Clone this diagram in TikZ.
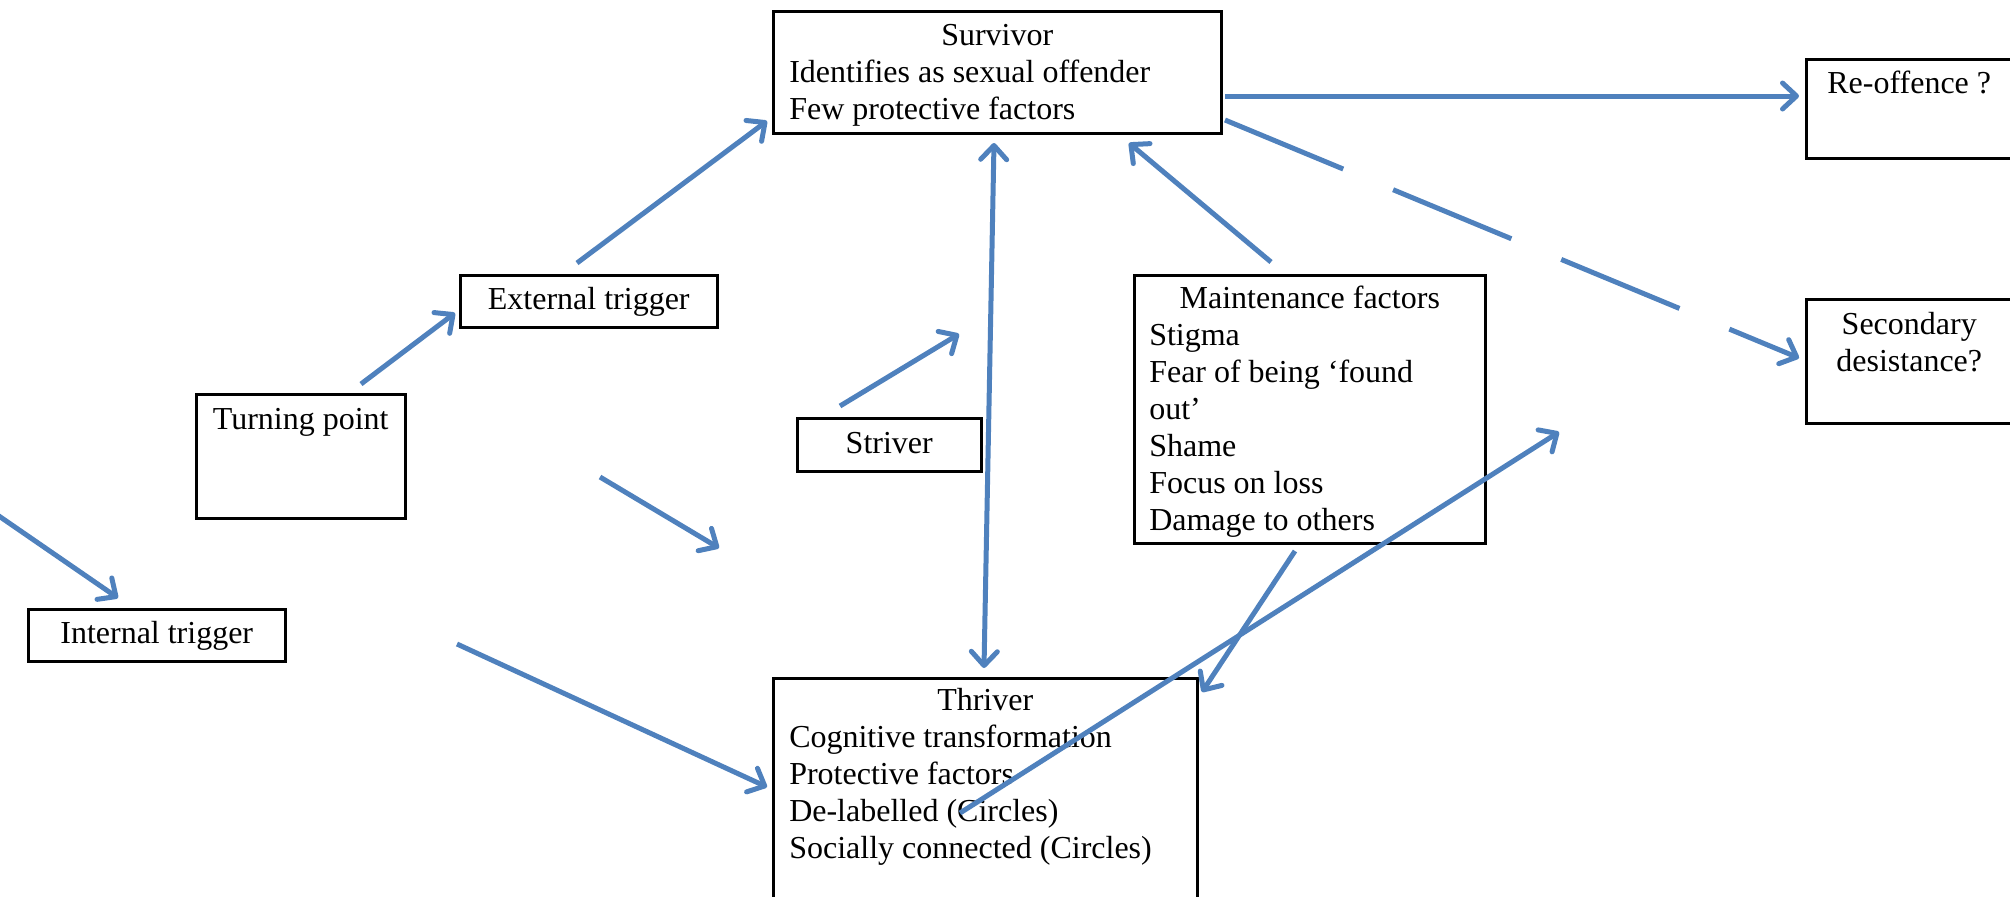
\documentclass[tikz,border=0pt]{standalone}
\usepackage{fontspec}
\setmainfont{Liberation Serif}
\usetikzlibrary{arrows.meta}
\definecolor{arrowblue}{HTML}{4F81BD}
\newcommand{\firststrut}{\rule{0pt}{17pt}}
\newcommand{\boxc}[4]{\parbox[c][#2][t]{#1}{\leftskip=#3\relax\rightskip=0pt plus 1fil\relax #4}}
\tikzset{
  box/.style={draw=black, line width=1.25pt, inner sep=0pt, anchor=north west,
    font=\fontsize{16}{18.5}\selectfont},
  conn/.style={draw=arrowblue, line width=2.5pt},
  >={Straight Barb[round,length=7pt,width=13pt]}
}
\begin{document}
\begin{tikzpicture}[x=0.5pt,y=-0.5pt]
\useasboundingbox (0,0) rectangle (2010,896);

% boxes
\node[box] (surv) at (772,10) {\boxc{224pt}{61pt}{8pt}{{\centering\firststrut Survivor\par}Identifies as sexual offender\par Few protective factors}};
\node[box] (reoff) at (1805,58) {\boxc{103pt}{49.5pt}{0pt}{{\centering\firststrut Re-offence ?\par}}};
\node[box] (second) at (1805,298) {\boxc{103pt}{62pt}{0pt}{{\centering\rule{0pt}{17.5pt}Secondary\par desistance?\par}}};
\node[box] (ext) at (459,274) {\boxc{128.5pt}{26pt}{0pt}{{\centering\firststrut External trigger\par}}};
\node[box] (tp) at (195,393) {\boxc{104.5pt}{62pt}{0pt}{{\centering\rule{0pt}{17.5pt}Turning point\par}}};
\node[box] (striver) at (796,417) {\boxc{92pt}{26.5pt}{0pt}{{\centering\rule{0pt}{17.5pt}Striver\par}}};
\node[box] (maint) at (1133,274) {\boxc{175.5pt}{134pt}{7.5pt}{{\centering\rule{0pt}{16.5pt}Maintenance factors\par}Stigma\par Fear of being `found\par out'\par Shame\par Focus on loss\par Damage to others}};
\node[box] (internal) at (27,608) {\boxc{128.5pt}{26pt}{0pt}{{\centering\firststrut Internal trigger\par}}};
\node[box] (thriver) at (772,677) {\boxc{212pt}{121.5pt}{8pt}{{\centering\rule{0pt}{16pt}Thriver\par}Cognitive transformation\par Protective factors\par De-labelled (Circles)\par Socially connected (Circles)}};

% connector end points
\coordinate (a1s) at (577,263);  \coordinate (a1e) at (767,121);
\coordinate (a2s) at (361,384);  \coordinate (a2e) at (455,313);
\coordinate (a3s) at (-4,514);   \coordinate (a3e) at (118,598);
\coordinate (a4s) at (600,477);  \coordinate (a4e) at (719,548);
\coordinate (a5s) at (840,406);  \coordinate (a5e) at (959,334);
\coordinate (a6s) at (994,143);  \coordinate (a6e) at (984,668);
\coordinate (a7s) at (457,644);  \coordinate (a7e) at (767,787);
\coordinate (a8s) at (1271,262); \coordinate (a8e) at (1129,143);
\coordinate (a9s) at (1225,96);  \coordinate (a9e) at (1799,96);
\coordinate (a10s) at (1225,120); \coordinate (a10e) at (1799,358);
\coordinate (a11s) at (1295,551); \coordinate (a11e) at (1202,692);
\coordinate (a12s) at (960,813); \coordinate (a12e) at (1559,432);

% connectors
\draw[conn,->] (a1s) -- (a1e);
\draw[conn,->] (a2s) -- (a2e);
\draw[conn,->] (a3s) -- (a3e);
\draw[conn,->] (a4s) -- (a4e);
\draw[conn,->] (a5s) -- (a5e);
\draw[conn,<->] (a6s) -- (a6e);
\draw[conn,->] (a7s) -- (a7e);
\draw[conn,->] (a8s) -- (a8e);
\draw[conn,->] (a9s) -- (a9e);
\draw[conn,->,dash pattern=on 64pt off 27pt] (a10s) -- (a10e);
\draw[conn,->] (a11s) -- (a11e);
\draw[conn,->] (a12s) -- (a12e);
\end{tikzpicture}
\end{document}
